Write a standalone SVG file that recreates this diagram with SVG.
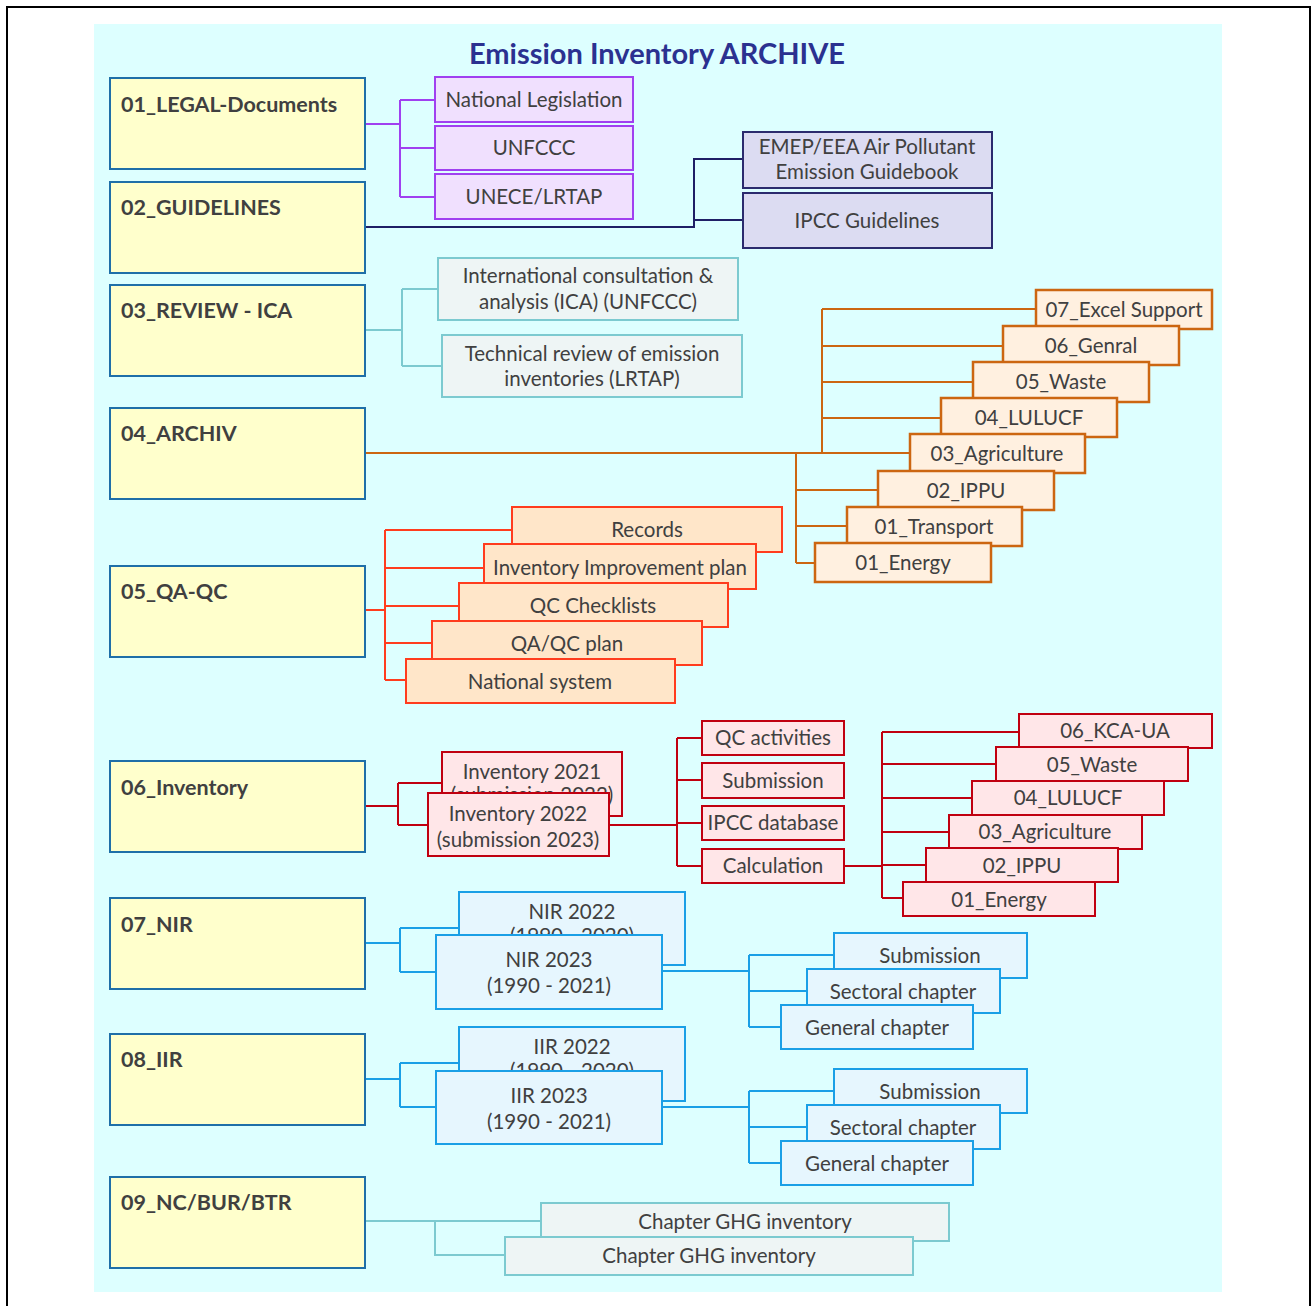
<svg xmlns="http://www.w3.org/2000/svg" width="1311" height="1306" viewBox="0 0 1311 1306">
<style>
text{font-family:Lato,"Liberation Sans",sans-serif;fill:#404040}
.t{font-size:20.5px;text-anchor:middle}
.h{font-size:21.5px;font-weight:bold}
.title{font-size:29px;font-weight:bold;fill:#2b3190;text-anchor:middle}
.main{fill:#ffffcc;stroke:#1f6fa8;stroke-width:2}
.pu{fill:#f0e0fe;stroke:#a040f0;stroke-width:2}
.nv{fill:#dcdcf2;stroke:#2b2b6e;stroke-width:2}
.tl{fill:#eef5f5;stroke:#7ccad0;stroke-width:2}
.or{fill:#fff0e0;stroke:#cc6611;stroke-width:2.5}
.rq{fill:#ffe6c9;stroke:#ff3c1e;stroke-width:2}
.rd{fill:#ffe6e8;stroke:#c00010;stroke-width:2}
.bl{fill:#e6f6fe;stroke:#1a9fe6;stroke-width:2}
.c{fill:none;stroke-width:2}
</style>
<rect x="0" y="0" width="1311" height="1306" fill="#ffffff"/>
<path d="M7,1306 V7 H1310 V1306" fill="none" stroke="#000" stroke-width="2"/>
<rect x="94" y="24" width="1128" height="1268" fill="#ddffff"/>
<text class="title" x="657" y="64">Emission Inventory ARCHIVE</text>

<g id="connectors">
<path class="c" stroke="#a040f0" d="M365,124 H400 M400,100 V197 M400,100 H435 M400,148 H435 M400,197 H435"/>
<path class="c" stroke="#1f1f66" d="M365,227 H694 V159 H743 M694,220 H743"/>
<path class="c" stroke="#7ccad0" d="M365,330 H402 M402,289 V366 M402,289 H438 M402,366 H442"/>
<path class="c" stroke="#cc6611" stroke-width="3" d="M365,453 H822"/>
<path class="c" stroke="#cc6611" d="M822,309 V453 M822,309 H1036 M822,346 H1003 M822,382 H973 M822,418 H941 M822,453 H910 M796,453 V563 M796,490 H878 M796,526 H847 M796,563 H815"/>
<path class="c" stroke="#ff3c1e" stroke-width="2.5" d="M365,610 H385"/>
<path class="c" stroke="#ff3c1e" d="M385,530 V680 M385,530 H512 M385,568 H484 M385,606 H459 M385,643 H432 M385,680 H406"/>
<path class="c" stroke="#c00010" stroke-width="2.5" d="M365,806 H398"/>
<path class="c" stroke="#c00010" d="M398,783 V825 M398,783 H442 M398,825 H428"/>
<path class="c" stroke="#c00010" stroke-width="3" d="M609,825 H677"/>
<path class="c" stroke="#c00010" d="M677,738 V866 M677,738 H702 M677,780 H702 M677,823 H702 M677,866 H702"/>
<path class="c" stroke="#c00010" stroke-width="3" d="M844,866 H882"/>
<path class="c" stroke="#c00010" d="M882,732 V898 M882,732 H1019 M882,764 H996 M882,798 H972 M882,832 H949 M882,865 H926 M882,898 H903"/>
<path class="c" stroke="#1a9fe6" stroke-width="2.5" d="M365,943 H400"/>
<path class="c" stroke="#1a9fe6" d="M400,928 V972 M400,928 H459 M400,972 H436"/>
<path class="c" stroke="#1a9fe6" stroke-width="3" d="M662,971 H749"/>
<path class="c" stroke="#1a9fe6" d="M749,955 V1027 M749,955 H834 M749,991 H807 M749,1027 H781"/>
<path class="c" stroke="#1a9fe6" stroke-width="2.5" d="M365,1079 H400"/>
<path class="c" stroke="#1a9fe6" d="M400,1063 V1107 M400,1063 H459 M400,1107 H436"/>
<path class="c" stroke="#1a9fe6" stroke-width="3" d="M662,1107 H749"/>
<path class="c" stroke="#1a9fe6" d="M749,1091 V1163 M749,1091 H834 M749,1127 H807 M749,1163 H781"/>
<path class="c" stroke="#7ccad0" d="M365,1221 H541 M435,1221 V1255 H505"/>
</g>

<g id="n01"><rect class="main" x="110" y="78" width="255" height="91"/><text class="h" x="121" y="112">01_LEGAL-Documents</text></g>
<g id="n02"><rect class="main" x="110" y="182" width="255" height="91"/><text class="h" x="121" y="215">02_GUIDELINES</text></g>
<g id="n03"><rect class="main" x="110" y="285" width="255" height="91"/><text class="h" x="121" y="318">03_REVIEW - ICA</text></g>
<g id="n04"><rect class="main" x="110" y="408" width="255" height="91"/><text class="h" x="121" y="441">04_ARCHIV</text></g>
<g id="n05"><rect class="main" x="110" y="566" width="255" height="91"/><text class="h" x="121" y="599">05_QA-QC</text></g>
<g id="n06"><rect class="main" x="110" y="761" width="255" height="91"/><text class="h" x="121" y="795">06_Inventory</text></g>
<g id="n07"><rect class="main" x="110" y="898" width="255" height="91"/><text class="h" x="121" y="932">07_NIR</text></g>
<g id="n08"><rect class="main" x="110" y="1034" width="255" height="91"/><text class="h" x="121" y="1067">08_IIR</text></g>
<g id="n09"><rect class="main" x="110" y="1177" width="255" height="91"/><text class="h" x="121" y="1210">09_NC/BUR/BTR</text></g>

<g id="legal-national"><rect class="pu" x="435" y="77" width="198" height="45"/><text class="t" x="534" y="107">National Legislation</text></g>
<g id="legal-unfccc"><rect class="pu" x="435" y="126" width="198" height="44"/><text class="t" x="534" y="155">UNFCCC</text></g>
<g id="legal-unece"><rect class="pu" x="435" y="174" width="198" height="45"/><text class="t" x="534" y="204">UNECE/LRTAP</text></g>

<g id="guide-emep"><rect class="nv" x="743" y="132" width="249" height="56"/><text class="t" x="867" y="154">EMEP/EEA Air Pollutant</text><text class="t" x="867" y="179">Emission Guidebook</text></g>
<g id="guide-ipcc"><rect class="nv" x="743" y="193" width="249" height="55"/><text class="t" x="867" y="228">IPCC Guidelines</text></g>

<g id="review-ica"><rect class="tl" x="438" y="258" width="300" height="62"/><text class="t" x="588" y="283">International consultation &amp;</text><text class="t" x="588" y="309">analysis (ICA) (UNFCCC)</text></g>
<g id="review-tech"><rect class="tl" x="442" y="335" width="300" height="62"/><text class="t" x="592" y="361">Technical review of emission</text><text class="t" x="592" y="386">inventories (LRTAP)</text></g>

<g id="arch-07"><rect class="or" x="1036" y="290" width="176" height="39"/><text class="t" x="1124" y="317">07_Excel Support</text></g>
<g id="arch-06"><rect class="or" x="1003" y="326" width="176" height="39"/><text class="t" x="1091" y="353">06_Genral</text></g>
<g id="arch-05"><rect class="or" x="973" y="362" width="176" height="40"/><text class="t" x="1061" y="389">05_Waste</text></g>
<g id="arch-04"><rect class="or" x="941" y="398" width="176" height="39"/><text class="t" x="1029" y="425">04_LULUCF</text></g>
<g id="arch-03"><rect class="or" x="910" y="434" width="175" height="39"/><text class="t" x="997" y="461">03_Agriculture</text></g>
<g id="arch-02"><rect class="or" x="878" y="471" width="176" height="39"/><text class="t" x="966" y="498">02_IPPU</text></g>
<g id="arch-01t"><rect class="or" x="847" y="507" width="175" height="39"/><text class="t" x="934" y="534">01_Transport</text></g>
<g id="arch-01e"><rect class="or" x="815" y="543" width="176" height="39"/><text class="t" x="903" y="570">01_Energy</text></g>

<g id="qa-records"><rect class="rq" x="512" y="507" width="270" height="45"/><text class="t" x="647" y="537">Records</text></g>
<g id="qa-iip"><rect class="rq" x="484" y="544" width="272" height="45"/><text class="t" x="620" y="575">Inventory Improvement plan</text></g>
<g id="qa-checklists"><rect class="rq" x="459" y="583" width="269" height="44"/><text class="t" x="593" y="613">QC Checklists</text></g>
<g id="qa-plan"><rect class="rq" x="432" y="621" width="270" height="44"/><text class="t" x="567" y="651">QA/QC plan</text></g>
<g id="qa-national"><rect class="rq" x="406" y="659" width="269" height="44"/><text class="t" x="540" y="689">National system</text></g>

<g id="inv-2021"><rect class="rd" x="442" y="752" width="180" height="64"/><text class="t" x="532" y="779">Inventory 2021</text><text class="t" x="532" y="802">(submission 2022)</text></g>
<g id="inv-2022"><rect class="rd" x="428" y="793" width="181" height="63"/><text class="t" x="518" y="821">Inventory 2022</text><text class="t" x="518" y="847">(submission 2023)</text></g>
<g id="inv-qc"><rect class="rd" x="702" y="721" width="142" height="34"/><text class="t" x="773" y="745">QC activities</text></g>
<g id="inv-sub"><rect class="rd" x="702" y="763" width="142" height="35"/><text class="t" x="773" y="788">Submission</text></g>
<g id="inv-ipcc"><rect class="rd" x="702" y="806" width="142" height="34"/><text class="t" x="773" y="830">IPCC database</text></g>
<g id="inv-calc"><rect class="rd" x="702" y="849" width="142" height="34"/><text class="t" x="773" y="873">Calculation</text></g>

<g id="calc-06"><rect class="rd" x="1019" y="714" width="193" height="34"/><text class="t" x="1115" y="738">06_KCA-UA</text></g>
<g id="calc-05"><rect class="rd" x="996" y="747" width="192" height="34"/><text class="t" x="1092" y="772">05_Waste</text></g>
<g id="calc-04"><rect class="rd" x="972" y="781" width="192" height="34"/><text class="t" x="1068" y="805">04_LULUCF</text></g>
<g id="calc-03"><rect class="rd" x="949" y="815" width="193" height="34"/><text class="t" x="1045" y="839">03_Agriculture</text></g>
<g id="calc-02"><rect class="rd" x="926" y="848" width="192" height="34"/><text class="t" x="1022" y="873">02_IPPU</text></g>
<g id="calc-01"><rect class="rd" x="903" y="882" width="192" height="34"/><text class="t" x="999" y="907">01_Energy</text></g>

<g id="nir-2022"><rect class="bl" x="459" y="892" width="226" height="73"/><text class="t" x="572" y="919">NIR 2022</text><text class="t" x="572" y="943">(1990 - 2020)</text></g>
<g id="nir-2023"><rect class="bl" x="436" y="935" width="226" height="74"/><text class="t" x="549" y="967">NIR 2023</text><text class="t" x="549" y="993">(1990 - 2021)</text></g>
<g id="nir-sub"><rect class="bl" x="834" y="933" width="193" height="45"/><text class="t" x="930" y="963">Submission</text></g>
<g id="nir-sect"><rect class="bl" x="807" y="969" width="193" height="44"/><text class="t" x="903" y="999">Sectoral chapter</text></g>
<g id="nir-gen"><rect class="bl" x="781" y="1005" width="192" height="44"/><text class="t" x="877" y="1035">General chapter</text></g>

<g id="iir-2022"><rect class="bl" x="459" y="1027" width="226" height="74"/><text class="t" x="572" y="1054">IIR 2022</text><text class="t" x="572" y="1078">(1990 - 2020)</text></g>
<g id="iir-2023"><rect class="bl" x="436" y="1071" width="226" height="73"/><text class="t" x="549" y="1103">IIR 2023</text><text class="t" x="549" y="1129">(1990 - 2021)</text></g>
<g id="iir-sub"><rect class="bl" x="834" y="1069" width="193" height="44"/><text class="t" x="930" y="1099">Submission</text></g>
<g id="iir-sect"><rect class="bl" x="807" y="1105" width="193" height="44"/><text class="t" x="903" y="1135">Sectoral chapter</text></g>
<g id="iir-gen"><rect class="bl" x="781" y="1141" width="192" height="44"/><text class="t" x="877" y="1171">General chapter</text></g>

<g id="nc-ch1"><rect class="tl" x="541" y="1203" width="408" height="38"/><text class="t" x="745" y="1229">Chapter GHG inventory</text></g>
<g id="nc-ch2"><rect class="tl" x="505" y="1237" width="408" height="38"/><text class="t" x="709" y="1263">Chapter GHG inventory</text></g>
</svg>
